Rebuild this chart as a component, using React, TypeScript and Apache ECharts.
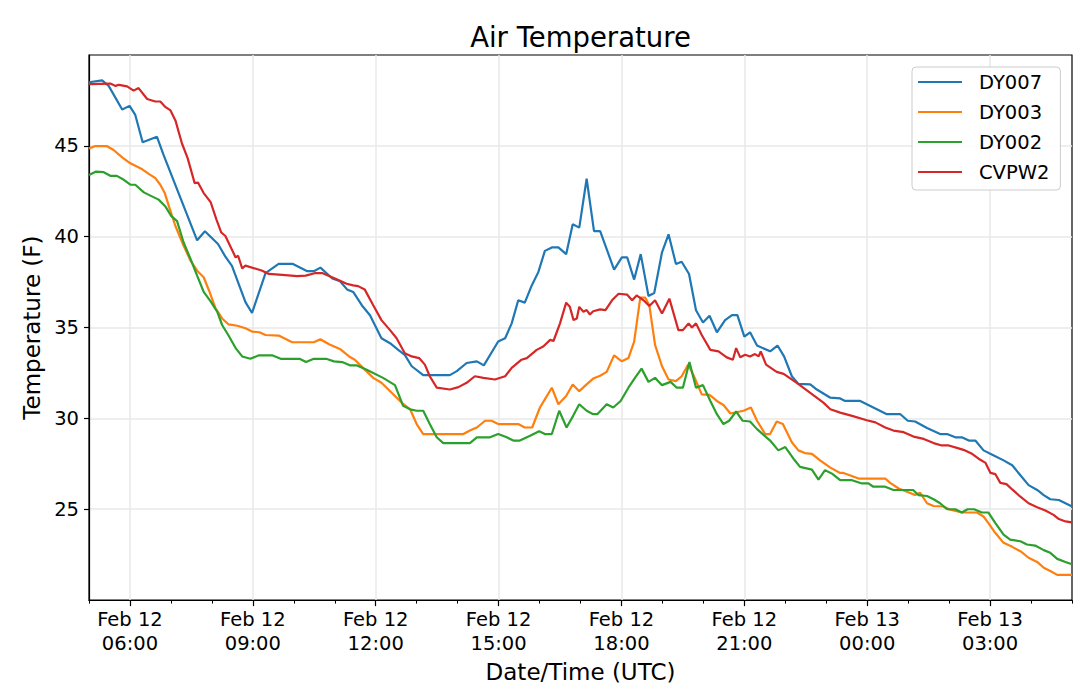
import React, { useEffect, useRef } from "react";
import * as echarts from "echarts";

// hours since Feb 12 00:00 UTC, temperature in F
const DY007: [number, number][] = [
  [5.0, 48.5], [5.32, 48.6], [5.48, 48.3], [5.81, 47.0], [5.99, 47.2], [6.13, 46.7],
  [6.31, 45.2], [6.66, 45.5], [6.82, 44.5], [7.64, 39.8], [7.83, 40.3], [8.15, 39.6],
  [8.33, 38.9], [8.49, 38.4], [8.82, 36.4], [8.98, 35.8], [9.31, 38.0], [9.63, 38.5],
  [9.98, 38.5], [10.33, 38.1], [10.49, 38.1], [10.65, 38.3], [10.94, 37.7], [11.13, 37.55],
  [11.3, 37.1], [11.45, 36.96], [11.66, 36.23], [11.86, 35.68], [12.14, 34.41], [12.35, 34.14],
  [12.55, 33.77], [12.71, 33.5], [12.88, 32.87], [13.16, 32.38], [13.81, 32.38], [13.98, 32.6],
  [14.22, 33.05], [14.47, 33.14], [14.64, 32.92], [14.99, 34.23], [15.16, 34.41], [15.32, 35.23],
  [15.48, 36.5], [15.64, 36.37], [15.81, 37.32], [15.97, 38.05], [16.13, 39.22], [16.3, 39.41],
  [16.46, 39.41], [16.65, 39.04], [16.81, 40.68], [16.97, 40.5], [17.15, 43.19], [17.33, 40.31],
  [17.48, 40.31], [17.82, 38.19], [18.01, 38.86], [18.14, 38.86], [18.31, 37.64], [18.47, 39.04],
  [18.66, 36.74], [18.8, 36.9], [18.99, 39.14], [19.15, 40.13], [19.33, 38.5], [19.47, 38.62],
  [19.65, 37.95], [19.82, 35.95], [19.99, 35.28], [20.15, 35.65], [20.33, 34.74], [20.53, 35.41],
  [20.7, 35.68], [20.83, 35.68], [21.0, 34.5], [21.14, 34.74], [21.31, 34.01], [21.63, 33.69],
  [21.81, 34.01], [21.97, 33.41], [22.16, 32.32], [22.32, 31.9], [22.61, 31.87], [22.77, 31.59],
  [23.1, 31.14], [23.34, 31.1], [23.46, 30.96], [23.83, 30.96], [24.15, 30.6], [24.48, 30.23],
  [24.81, 30.23], [24.99, 29.87], [25.17, 29.83], [25.46, 29.47], [25.78, 29.14], [25.95, 29.14],
  [26.15, 28.96], [26.31, 28.96], [26.48, 28.78], [26.64, 28.78], [26.84, 28.24], [27.09, 27.96],
  [27.33, 27.69], [27.54, 27.42], [27.74, 26.87], [27.94, 26.33], [28.15, 26.06], [28.31, 25.78],
  [28.47, 25.55], [28.68, 25.51], [28.84, 25.33], [29.0, 25.15],
];

const DY003: [number, number][] = [
  [5.0, 44.86], [5.14, 44.98], [5.44, 44.98], [5.6, 44.77], [5.81, 44.37], [6.01, 44.04],
  [6.3, 43.71], [6.46, 43.46], [6.62, 43.22], [6.74, 42.86], [6.85, 42.4], [6.95, 41.68],
  [7.11, 40.59], [7.31, 39.5], [7.48, 38.68], [7.64, 38.13], [7.8, 37.77], [7.93, 37.04],
  [8.09, 36.05], [8.25, 35.5], [8.41, 35.17], [8.62, 35.1], [8.82, 34.96], [8.98, 34.78],
  [9.16, 34.74], [9.31, 34.59], [9.63, 34.56], [9.96, 34.19], [10.49, 34.19], [10.65, 34.36],
  [10.86, 34.08], [11.14, 33.8], [11.35, 33.41], [11.49, 33.23], [11.69, 32.78], [11.94, 32.23],
  [12.14, 31.96], [12.39, 31.41], [12.63, 30.87], [12.84, 30.5], [13.0, 29.69], [13.16, 29.14],
  [14.14, 29.14], [14.3, 29.33], [14.47, 29.5], [14.67, 29.87], [14.83, 29.87], [14.99, 29.69],
  [15.48, 29.69], [15.64, 29.5], [15.82, 29.5], [16.01, 30.6], [16.13, 31.05], [16.3, 31.69],
  [16.46, 30.78], [16.65, 31.23], [16.81, 31.87], [16.97, 31.5], [17.15, 31.87], [17.31, 32.19],
  [17.48, 32.35], [17.64, 32.56], [17.82, 33.47], [18.01, 33.14], [18.17, 33.32], [18.31, 34.23],
  [18.46, 36.65], [18.58, 36.65], [18.68, 36.23], [18.82, 34.05], [18.99, 32.87], [19.15, 32.14],
  [19.33, 32.05], [19.47, 32.32], [19.63, 32.96], [19.77, 32.32], [19.96, 31.32], [20.15, 31.29],
  [20.33, 30.96], [20.49, 30.74], [20.66, 30.27], [20.98, 30.42], [21.16, 30.6], [21.31, 29.87],
  [21.51, 29.14], [21.63, 29.14], [21.79, 29.83], [21.94, 29.69], [22.16, 28.69], [22.32, 28.24],
  [22.48, 28.09], [22.65, 28.05], [22.85, 27.69], [23.1, 27.29], [23.34, 27.0], [23.42, 27.0],
  [23.79, 26.69], [24.44, 26.69], [24.56, 26.45], [24.77, 26.14], [24.97, 25.96], [25.17, 25.78],
  [25.29, 25.91], [25.46, 25.33], [25.62, 25.18], [25.86, 25.15], [26.03, 24.97], [26.31, 24.82],
  [26.68, 24.82], [26.84, 24.6], [26.96, 24.24], [27.13, 23.69], [27.33, 23.15], [27.54, 22.93],
  [27.74, 22.69], [27.94, 22.33], [28.15, 22.1], [28.31, 21.78], [28.47, 21.6], [28.64, 21.39],
  [29.0, 21.39],
];

const DY002: [number, number][] = [
  [5.0, 43.4], [5.16, 43.58], [5.36, 43.55], [5.52, 43.35], [5.68, 43.35], [5.85, 43.13],
  [6.01, 42.86], [6.13, 42.86], [6.34, 42.44], [6.5, 42.26], [6.7, 42.04], [6.86, 41.68],
  [7.01, 41.13], [7.15, 40.86], [7.31, 39.68], [7.48, 38.77], [7.64, 37.86], [7.8, 36.96],
  [7.97, 36.44], [8.13, 35.87], [8.25, 35.14], [8.4, 34.59], [8.58, 33.87], [8.74, 33.41],
  [8.94, 33.28], [9.15, 33.47], [9.47, 33.47], [9.68, 33.28], [10.14, 33.28], [10.3, 33.1],
  [10.49, 33.28], [10.79, 33.28], [10.98, 33.14], [11.18, 33.1], [11.37, 32.92], [11.53, 32.92],
  [11.78, 32.68], [12.18, 32.23], [12.47, 31.83], [12.67, 30.69], [12.84, 30.5], [13.0, 30.42],
  [13.16, 30.42], [13.32, 29.69], [13.49, 28.96], [13.65, 28.64], [14.3, 28.64], [14.47, 28.96],
  [14.79, 28.96], [14.99, 29.14], [15.2, 28.96], [15.36, 28.78], [15.52, 28.78], [15.77, 29.05],
  [15.99, 29.29], [16.13, 29.14], [16.3, 29.14], [16.48, 30.42], [16.66, 29.5], [16.82, 30.14],
  [16.97, 30.78], [17.15, 30.42], [17.31, 30.23], [17.41, 30.23], [17.64, 30.78], [17.8, 30.6],
  [17.98, 30.96], [18.17, 31.69], [18.33, 32.23], [18.49, 32.74], [18.66, 32.01], [18.82, 32.23],
  [18.99, 31.83], [19.2, 32.01], [19.35, 31.69], [19.5, 31.69], [19.66, 33.1], [19.82, 31.69],
  [19.99, 31.83], [20.17, 30.96], [20.33, 30.23], [20.49, 29.69], [20.63, 29.87], [20.8, 30.38],
  [20.96, 29.87], [21.14, 29.83], [21.31, 29.41], [21.63, 28.78], [21.83, 28.24], [22.0, 28.42],
  [22.2, 27.78], [22.36, 27.33], [22.65, 27.18], [22.81, 26.63], [22.97, 27.15], [23.14, 26.96],
  [23.34, 26.6], [23.63, 26.6], [23.87, 26.42], [24.03, 26.42], [24.15, 26.24], [24.44, 26.24],
  [24.64, 26.06], [25.12, 26.06], [25.25, 25.78], [25.46, 25.73], [25.62, 25.55], [25.78, 25.33],
  [25.95, 25.0], [26.15, 25.0], [26.31, 24.82], [26.45, 25.0], [26.61, 25.0], [26.8, 24.82],
  [26.96, 24.82], [27.13, 24.24], [27.33, 23.6], [27.49, 23.33], [27.74, 23.24], [27.9, 23.06],
  [28.1, 23.0], [28.31, 22.75], [28.47, 22.6], [28.64, 22.27], [28.84, 22.1], [29.0, 21.97],
];

const CVPW2: [number, number][] = [
  [5.0, 48.4], [5.52, 48.43], [5.65, 48.3], [5.73, 48.36], [5.93, 48.27], [6.09, 48.04],
  [6.21, 48.18], [6.42, 47.58], [6.62, 47.44], [6.74, 47.44], [6.87, 47.13], [6.99, 46.95],
  [7.11, 46.4], [7.27, 45.13], [7.41, 44.31], [7.58, 42.95], [7.66, 42.98], [7.8, 42.4],
  [7.97, 41.9], [8.11, 40.95], [8.23, 40.23], [8.33, 40.04], [8.58, 38.86], [8.64, 38.95],
  [8.74, 38.26], [8.82, 38.41], [9.23, 38.13], [9.39, 37.95], [9.72, 37.9], [10.08, 37.83],
  [10.29, 37.86], [10.53, 38.0], [10.69, 38.0], [11.02, 37.68], [11.29, 37.41], [11.45, 37.32],
  [11.57, 37.28], [11.73, 37.1], [11.94, 36.23], [12.14, 35.41], [12.35, 34.86], [12.51, 34.41],
  [12.71, 33.59], [12.88, 33.41], [13.06, 33.32], [13.2, 32.96], [13.32, 32.32], [13.49, 31.69],
  [13.81, 31.59], [14.02, 31.72], [14.22, 31.96], [14.42, 32.32], [14.63, 32.23], [14.91, 32.14],
  [15.16, 32.32], [15.32, 32.78], [15.56, 33.23], [15.69, 33.32], [15.93, 33.77], [16.09, 33.96],
  [16.26, 34.32], [16.34, 34.26], [16.5, 35.23], [16.65, 36.37], [16.74, 36.14], [16.83, 35.41],
  [16.91, 35.5], [16.97, 36.14], [17.07, 35.87], [17.15, 35.96], [17.23, 35.72], [17.31, 35.9],
  [17.48, 36.0], [17.61, 35.96], [17.77, 36.5], [17.93, 36.86], [18.14, 36.81], [18.26, 36.5],
  [18.37, 36.77], [18.54, 36.5], [18.68, 36.19], [18.82, 36.5], [18.99, 35.77], [19.17, 36.59],
  [19.39, 34.86], [19.5, 34.86], [19.64, 35.23], [19.72, 35.0], [19.82, 35.23], [19.96, 34.59],
  [20.17, 33.77], [20.37, 33.69], [20.57, 33.36], [20.72, 33.23], [20.8, 33.87], [20.9, 33.36],
  [21.02, 33.5], [21.14, 33.41], [21.26, 33.54], [21.35, 33.41], [21.4, 33.69], [21.53, 32.96],
  [21.79, 32.56], [21.96, 32.45], [22.28, 31.96], [22.61, 31.41], [22.93, 30.87], [23.1, 30.5],
  [23.34, 30.32], [23.63, 30.14], [23.99, 29.9], [24.2, 29.78], [24.44, 29.5], [24.64, 29.33],
  [24.89, 29.24], [25.13, 29.0], [25.38, 28.87], [25.62, 28.64], [25.82, 28.51], [25.99, 28.51],
  [26.19, 28.38], [26.35, 28.27], [26.56, 28.05], [26.72, 27.78], [26.89, 27.55], [27.01, 27.0],
  [27.13, 26.93], [27.25, 26.45], [27.4, 26.38], [27.54, 26.09], [27.74, 25.69], [27.94, 25.33],
  [28.15, 25.11], [28.35, 24.93], [28.55, 24.69], [28.68, 24.46], [28.84, 24.33], [29.0, 24.28],
];

const SERIES = [
  { name: "DY007", color: "#1f77b4", data: DY007 },
  { name: "DY003", color: "#ff7f0e", data: DY003 },
  { name: "DY002", color: "#2ca02c", data: DY002 },
  { name: "CVPW2", color: "#d62728", data: CVPW2 },
];

const X_TICKS = [6, 9, 12, 15, 18, 21, 24, 27];
const Y_TICKS = [25, 30, 35, 40, 45];

const FONT = "DejaVu Sans";

const fmtTime = (h: number) => {
  const day = h < 24 ? 12 : 13;
  const hh = String(Math.round(h) % 24).padStart(2, "0");
  return `Feb ${day}\n${hh}:00`;
};

const App: React.FC = () => {
  const chartRef = useRef<HTMLDivElement | null>(null);

  useEffect(() => {
    if (!chartRef.current) return;
    const chart = echarts.init(chartRef.current, undefined, { renderer: "svg" });

    const options: echarts.EChartsOption = {
      animation: false,
      backgroundColor: "#fff",
      textStyle: { fontFamily: FONT },
      graphic: [
        {
          type: "text",
          x: 580.5,
          y: 37,
          style: {
            text: "Air Temperature",
            align: "center",
            verticalAlign: "middle",
            fontFamily: FONT,
            fontSize: 27.5,
            fill: "#000",
          },
        },
      ],
      grid: {
        left: 89,
        right: 8,
        top: 55,
        bottom: 83,
        show: true,
        borderColor: "#000",
        borderWidth: 1.2,
        backgroundColor: "transparent",
      },
      legend: {
        orient: "vertical",
        left: 912,
        top: 67,
        padding: [5, 11, 8, 6],
        backgroundColor: "rgba(255,255,255,0.85)",
        borderColor: "#cccccc",
        borderWidth: 1,
        borderRadius: 4,
        itemWidth: 44,
        itemHeight: 2,
        itemGap: 10,
        icon: "rect",
        textStyle: {
          fontFamily: FONT,
          fontSize: 19.5,
          color: "#000",
          lineHeight: 20,
          padding: [0, 0, 0, 12],
        },
        data: SERIES.map((s) => s.name),
      },
      xAxis: [
        {
          type: "value",
          min: 5,
          max: 29,
          interval: 1,
          name: "Date/Time (UTC)",
          nameLocation: "middle",
          nameGap: 56,
          nameTextStyle: { fontFamily: FONT, fontSize: 23, color: "#000" },
          axisLine: { show: true, lineStyle: { color: "#000", width: 1.2 } },
          axisTick: {
            show: true,
            length: 6,
            customValues: X_TICKS,
            lineStyle: { color: "#000", width: 1.2 },
          },
          axisLabel: {
            customValues: X_TICKS,
            formatter: (v: number) => fmtTime(v),
            fontFamily: FONT,
            fontSize: 19.5,
            lineHeight: 24,
            color: "#000",
            margin: 7,
          },
          splitLine: { show: true, lineStyle: { color: "#e8e8e8", width: 1.5 } },
        },
        {
          type: "value",
          min: 5,
          max: 29,
          interval: 1,
          position: "bottom",
          axisLine: { show: false },
          axisTick: { show: true, length: 3.5, lineStyle: { color: "#000", width: 1 } },
          axisLabel: { show: false },
          splitLine: { show: false },
        },
      ],
      yAxis: {
        type: "value",
        min: 20,
        max: 50,
        interval: 5,
        name: "Temperature (F)",
        nameLocation: "middle",
        nameGap: 43,
        nameTextStyle: { fontFamily: FONT, fontSize: 23, color: "#000" },
        axisLine: { show: true, lineStyle: { color: "#000", width: 1.2 } },
        axisTick: {
          show: true,
          length: 5,
          customValues: Y_TICKS,
          lineStyle: { color: "#000", width: 1.2 },
        },
        axisLabel: {
          customValues: Y_TICKS,
          fontFamily: FONT,
          fontSize: 19.5,
          color: "#000",
          margin: 10,
        },
        splitLine: { show: true, lineStyle: { color: "#e8e8e8", width: 1.5 } },
      },
      series: SERIES.map((s) => ({
        name: s.name,
        type: "line" as const,
        xAxisIndex: 0,
        data: s.data,
        showSymbol: false,
        symbol: "none",
        color: s.color,
        lineStyle: { color: s.color, width: 2.2 },
      })),
    };

    chart.setOption(options);
    return () => chart.dispose();
  }, []);

  return (
    <div
      ref={chartRef}
      style={{ position: "absolute", left: 0, top: 0, width: 1080, height: 688 }}
    />
  );
};

export default App;
